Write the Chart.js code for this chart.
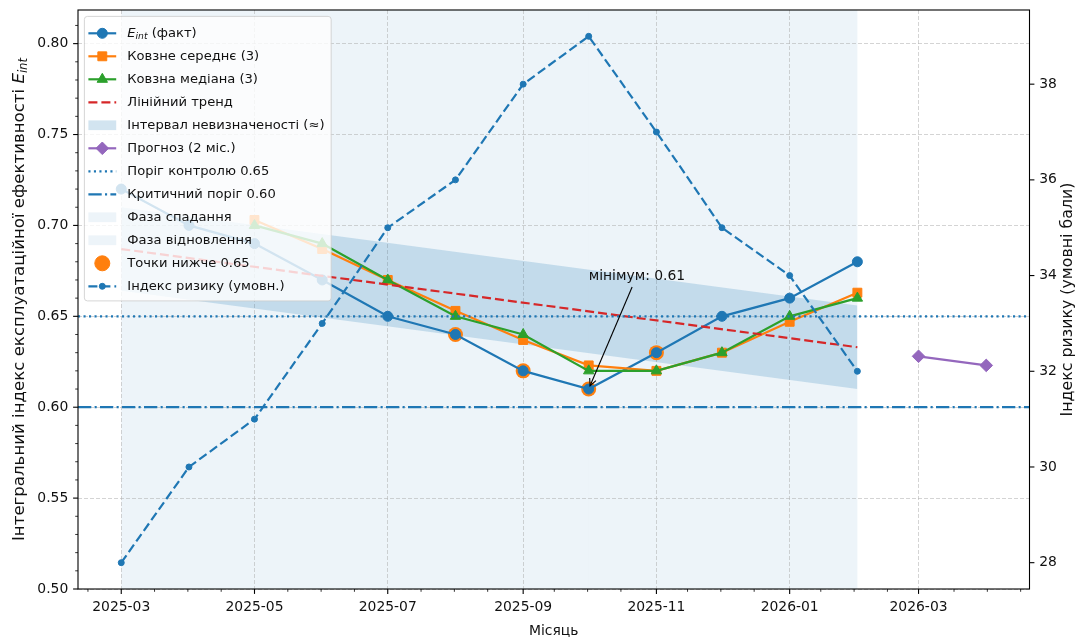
<!DOCTYPE html>
<html>
<head>
<meta charset="utf-8">
<title>Інтегральний індекс експлуатаційної ефективності</title>
<script src="https://cdn.jsdelivr.net/npm/chart.js@4.4.1/dist/chart.umd.min.js"></script>
<style>
  html, body { margin: 0; padding: 0; background: #fff; }
  canvas { display: block; background: #fff; }
</style>
</head>
<body>
<canvas id="chart" width="1078" height="641"></canvas>
<script>
// ---- data ----
const months = ['2025-03','2025-04','2025-05','2025-06','2025-07','2025-08',
                '2025-09','2025-10','2025-11','2025-12','2026-01','2026-02'];
const eint = [0.72, 0.70, 0.69, 0.67, 0.65, 0.64, 0.62, 0.61, 0.63, 0.65, 0.66, 0.68];
const movingMean = [null, null, 0.703, 0.687, 0.670, 0.653, 0.637, 0.623, 0.620, 0.630, 0.647, 0.663];
const movingMedian = [null, null, 0.70, 0.69, 0.67, 0.65, 0.64, 0.62, 0.62, 0.63, 0.65, 0.66];
const riskIndex = [28, 30, 31, 33, 35, 36, 38, 39, 37, 35, 34, 32];

const trendMonths = ['2025-03', '2026-02'];
const trendValues = [0.687, 0.633];
const bandUpper = [0.710, 0.656];
const bandLower = [0.664, 0.610];

const forecastMonths = ['2026-03', '2026-04'];
const forecastValues = [0.628, 0.623];

const controlLevel = 0.65;
const criticalLevel = 0.60;

const declinePhase = ['2025-03', '2025-10'];
const recoveryPhase = ['2025-10', '2026-02'];

const minimumMonth = '2025-10';
const minimumValue = 0.61;
const minimumLabelValue = 0.67;

const dateTicks = ['2025-03','2025-05','2025-07','2025-09','2025-11','2026-01','2026-03'];
const effTicks = [0.50, 0.55, 0.60, 0.65, 0.70, 0.75, 0.80];
const riskTicks = [28, 30, 32, 34, 36, 38];

// ---- helpers ----
const FONT = '"DejaVu Sans", Verdana, sans-serif';
const FS = 13.9;        // tick labels, x title, annotation
const FS_YL = 16.6;     // left y-axis title
const FS_YR = 15.8;     // right y-axis title
const FS_LEG = 13.1;    // legend
const TXT = '#111';
const C = { blue: '#1f77b4', orange: '#ff7f0e', green: '#2ca02c', red: '#d62728', purple: '#9467bd' };
const BAND = 'rgba(31,119,180,0.2)';
const PHASE = 'rgba(31,119,180,0.08)';
const GRID = 'rgba(176,176,176,0.55)';
const DASHED = [9, 4];
const DOTTED = [2.1, 3.4];
const DASHDOT = [13.3, 3.3, 2.1, 3.3];
const LW = 2.2;

const ORIGIN = Date.UTC(2025, 2, 1);
function dayOf(m) {
  const [y, mo] = m.split('-').map(Number);
  return (Date.UTC(y, mo - 1, 1) - ORIGIN) / 86400000;
}
function pts(ms, vals) {
  return ms.map((m, i) => (vals[i] == null ? null : { x: dayOf(m), y: vals[i] })).filter(Boolean);
}

// x range: first month to last forecast month with 5% margins
const xFirst = dayOf(months[0]);
const xLast = dayOf(forecastMonths[forecastMonths.length - 1]);
const xPad = 0.05 * (xLast - xFirst);
const xMin = xFirst - xPad, xMax = xLast + xPad;

const belowMonths = months.filter((m, i) => eint[i] < controlLevel);
const belowValues = eint.filter(v => v < controlLevel);

// ---- plugins ----
const phasePlugin = {
  id: 'phases',
  beforeDraw(chart) {
    const { ctx, chartArea: a, scales: { x } } = chart;
    ctx.save();
    ctx.fillStyle = PHASE;
    [declinePhase, recoveryPhase].forEach(([s, e]) => {
      const x0 = x.getPixelForValue(dayOf(s)), x1 = x.getPixelForValue(dayOf(e));
      ctx.fillRect(x0, a.top, x1 - x0, a.bottom - a.top);
    });
    ctx.restore();
  }
};

function drawMarker(ctx, style, x, y, r, color) {
  ctx.save();
  ctx.fillStyle = color; ctx.strokeStyle = color; ctx.lineWidth = 1;
  ctx.setLineDash([]);
  ctx.beginPath();
  if (style === 'circle') {
    ctx.arc(x, y, r, 0, Math.PI * 2);
  } else if (style === 'rect') {
    const s = r * Math.SQRT1_2;
    ctx.rect(x - s, y - s, 2 * s, 2 * s);
  } else if (style === 'triangle') {
    for (let k = 0; k < 3; k++) {
      const a = k * 2 * Math.PI / 3;
      const px = x + Math.sin(a) * r, py = y - Math.cos(a) * r;
      if (k === 0) ctx.moveTo(px, py); else ctx.lineTo(px, py);
    }
  } else if (style === 'rectRot') {
    ctx.moveTo(x, y - r); ctx.lineTo(x + r, y); ctx.lineTo(x, y + r); ctx.lineTo(x - r, y);
  }
  ctx.closePath();
  ctx.fill(); ctx.stroke();
  ctx.restore();
}

// "E" with italic subscript "int"; returns width, draws when draw=true
function eintText(ctx, x, y, draw, size) {
  ctx.save();
  ctx.font = `italic ${size}px ${FONT}`;
  const wE = ctx.measureText('E').width;
  if (draw) ctx.fillText('E', x, y);
  ctx.font = `italic ${size * 0.7}px ${FONT}`;
  const wi = ctx.measureText('int').width;
  if (draw) ctx.fillText('int', x + wE, y + size * 0.23);
  ctx.restore();
  return wE + wi;
}

const framePlugin = {
  id: 'frame',
  afterDatasetsDraw(chart) {
    const { ctx, chartArea: a, scales: { x, y, y2 } } = chart;
    ctx.save();
    // spines
    ctx.strokeStyle = '#000'; ctx.lineWidth = 1.1;
    ctx.strokeRect(a.left, a.top, a.right - a.left, a.bottom - a.top);

    // major / minor tick marks
    const tick = (x0, y0, x1, y1, w) => {
      ctx.lineWidth = w; ctx.beginPath(); ctx.moveTo(x0, y0); ctx.lineTo(x1, y1); ctx.stroke();
    };
    dateTicks.forEach(m => { const px = x.getPixelForValue(dayOf(m)); tick(px, a.bottom, px, a.bottom + 4.9, 1.1); });
    const majorDays = dateTicks.map(dayOf);
    const step = (majorDays[1] - majorDays[0]) / 4;
    for (let k = -2; k < 40; k++) {
      const d = majorDays[0] + k * step;
      if (d < xMin || d > xMax) continue;
      if (majorDays.some(md => Math.abs(md - d) < 2)) continue;
      const px = x.getPixelForValue(d);
      tick(px, a.bottom, px, a.bottom + 2.8, 0.8);
    }
    effTicks.forEach(v => { const py = y.getPixelForValue(v); tick(a.left, py, a.left - 4.9, py, 1.1); });
    for (let k = 50; k <= 81; k++) {
      if (k % 5 === 0) continue;
      const py = y.getPixelForValue(k / 100);
      if (py < a.top) continue;
      tick(a.left, py, a.left - 2.8, py, 0.8);
    }
    riskTicks.forEach(v => { const py = y2.getPixelForValue(v); tick(a.right, py, a.right + 4.9, py, 1.1); });

    // axis titles
    ctx.fillStyle = TXT;
    ctx.font = `${FS}px ${FONT}`;
    ctx.textAlign = 'center'; ctx.textBaseline = 'middle';
    ctx.fillText('Місяць', (a.left + a.right) / 2, 631);

    ctx.save();
    ctx.font = `${FS_YR}px ${FONT}`;
    ctx.translate(1068, (a.top + a.bottom) / 2);
    ctx.rotate(-Math.PI / 2);
    ctx.fillText('Індекс ризику (умовні бали)', 0, 0);
    ctx.restore();

    ctx.save();
    ctx.translate(20, (a.top + a.bottom) / 2);
    ctx.rotate(-Math.PI / 2);
    const leftTitle = 'Інтегральний індекс експлуатаційної ефективності ';
    ctx.font = `${FS_YL}px ${FONT}`;
    const w1 = ctx.measureText(leftTitle).width;
    const w2 = eintText(ctx, 0, 0, false, FS_YL);
    const start = -(w1 + w2) / 2;
    ctx.textAlign = 'left';
    ctx.fillText(leftTitle, start, 0);
    eintText(ctx, start + w1, 0, true, FS_YL);
    ctx.restore();

    // minimum annotation
    const tx = x.getPixelForValue(dayOf(minimumMonth));
    const ty = y.getPixelForValue(minimumLabelValue);
    const label = 'мінімум: ' + minimumValue.toFixed(2);
    ctx.font = `${FS}px ${FONT}`;
    ctx.textAlign = 'left'; ctx.textBaseline = 'alphabetic';
    ctx.fillStyle = TXT;
    ctx.fillText(label, tx, ty);
    const tw = ctx.measureText(label).width;
    const bx0 = tx, bx1 = tx + tw, by0 = ty - 13, by1 = ty + 4.5;
    const cx = (bx0 + bx1) / 2, cy = (by0 + by1) / 2;
    const px = x.getPixelForValue(dayOf(minimumMonth)), py = y.getPixelForValue(minimumValue);
    const dx = px - cx, dy = py - cy, len = Math.hypot(dx, dy), ux = dx / len, uy = dy / len;
    const t = Math.min((bx1 - bx0) / 2 / Math.abs(dx || 1e-9), (by1 - by0) / 2 / Math.abs(dy || 1e-9));
    const sx = cx + dx * t + ux * 2.8, sy = cy + dy * t + uy * 2.8;
    const ex = px - ux * 3.5, ey = py - uy * 3.5;
    ctx.strokeStyle = '#000'; ctx.lineWidth = 1.1;
    ctx.beginPath(); ctx.moveTo(sx, sy); ctx.lineTo(ex, ey); ctx.stroke();
    const hl = 7, hw = 3.4;
    ctx.beginPath();
    ctx.moveTo(ex - ux * hl - uy * hw, ey - uy * hl + ux * hw);
    ctx.lineTo(ex, ey);
    ctx.lineTo(ex - ux * hl + uy * hw, ey - uy * hl - ux * hw);
    ctx.stroke();
    ctx.restore();
  }
};

const legendItems = [
  { text: ' (факт)', eint: true, line: [], color: C.blue, marker: 'circle', r: 5 },
  { text: 'Ковзне середнє (3)', line: [], color: C.orange, marker: 'rect', r: 6.3 },
  { text: 'Ковзна медіана (3)', line: [], color: C.green, marker: 'triangle', r: 6 },
  { text: 'Лінійний тренд', line: DASHED, color: C.red },
  { text: 'Інтервал невизначеності (≈)', patch: BAND },
  { text: 'Прогноз (2 міс.)', line: [], color: C.purple, marker: 'rectRot', r: 6.3 },
  { text: 'Поріг контролю 0.65', line: DOTTED, color: C.blue },
  { text: 'Критичний поріг 0.60', line: DASHDOT, color: C.blue },
  { text: 'Фаза спадання', patch: PHASE },
  { text: 'Фаза відновлення', patch: PHASE },
  { text: 'Точки нижче 0.65', dot: C.orange, r: 7.5 },
  { text: 'Індекс ризику (умовн.)', line: DASHED, color: C.blue, marker: 'circle', r: 3 }
];

const legendPlugin = {
  id: 'boxLegend',
  afterDraw(chart) {
    const { ctx, chartArea: a } = chart;
    const pad = 5.6, handle = 27.8, gap = 11.1, rowH = 23.0;
    const left = a.left + 6.4, top = a.top + 6.4;
    ctx.save();
    ctx.font = `${FS_LEG}px ${FONT}`;
    let maxW = 0;
    legendItems.forEach(it => {
      let w = ctx.measureText(it.text).width;
      if (it.eint) w += eintText(ctx, 0, 0, false, FS_LEG);
      maxW = Math.max(maxW, w);
    });
    const hx0 = left + 4, hx1 = hx0 + handle, textX = hx1 + gap;
    const width = textX + maxW + pad + 1 - left;
    const height = 284.5;
    // frame
    const r = 3;
    ctx.beginPath();
    ctx.moveTo(left + r, top);
    ctx.arcTo(left + width, top, left + width, top + height, r);
    ctx.arcTo(left + width, top + height, left, top + height, r);
    ctx.arcTo(left, top + height, left, top, r);
    ctx.arcTo(left, top, left + width, top, r);
    ctx.closePath();
    ctx.fillStyle = 'rgba(255,255,255,0.8)';
    ctx.fill();
    ctx.strokeStyle = 'rgba(204,204,204,0.8)';
    ctx.lineWidth = 1;
    ctx.stroke();

    legendItems.forEach((it, i) => {
      const cy = 33.3 + i * rowH;
      const mx = (hx0 + hx1) / 2;
      if (it.patch) {
        ctx.fillStyle = it.patch;
        ctx.fillRect(hx0, cy - 4.9, handle, 9.7);
      }
      if (it.line) {
        ctx.save();
        ctx.strokeStyle = it.color; ctx.lineWidth = LW;
        ctx.setLineDash(it.line);
        ctx.beginPath(); ctx.moveTo(hx0, cy); ctx.lineTo(hx1, cy); ctx.stroke();
        ctx.restore();
      }
      if (it.marker) drawMarker(ctx, it.marker, mx, cy, it.r, it.color);
      if (it.dot) drawMarker(ctx, 'circle', mx, cy, it.r, it.dot);
      ctx.fillStyle = TXT;
      ctx.textAlign = 'left'; ctx.textBaseline = 'middle';
      ctx.font = `${FS_LEG}px ${FONT}`;
      let tx = textX;
      if (it.eint) {
        tx += eintText(ctx, tx, cy, true, FS_LEG);
        ctx.font = `${FS_LEG}px ${FONT}`;
      }
      ctx.fillText(it.text, tx, cy);
    });
    ctx.restore();
  }
};

// ---- chart ----
const lineOpts = (color, extra) => Object.assign({
  borderColor: color, backgroundColor: color, pointBackgroundColor: color, pointBorderColor: color,
  borderWidth: LW, pointBorderWidth: 1, tension: 0, fill: false
}, extra);

const datasets = [
  lineOpts(C.blue, { label: 'Індекс ризику (умовн.)', yAxisID: 'y2', data: pts(months, riskIndex),
    borderDash: DASHED, pointRadius: 3, order: 0 }),
  lineOpts(C.blue, { label: 'Поріг контролю 0.65', yAxisID: 'y',
    data: [{ x: xMin, y: controlLevel }, { x: xMax, y: controlLevel }], borderDash: DOTTED, pointRadius: 0, order: 1 }),
  lineOpts(C.blue, { label: 'Критичний поріг 0.60', yAxisID: 'y',
    data: [{ x: xMin, y: criticalLevel }, { x: xMax, y: criticalLevel }], borderDash: DASHDOT, pointRadius: 0, order: 1 }),
  lineOpts(C.purple, { label: 'Прогноз (2 міс.)', yAxisID: 'y', data: pts(forecastMonths, forecastValues),
    pointStyle: 'rectRot', pointRadius: 6.3, order: 2 }),
  lineOpts(C.red, { label: 'Лінійний тренд', yAxisID: 'y', data: pts(trendMonths, trendValues),
    borderDash: DASHED, pointRadius: 0, order: 3 }),
  lineOpts(C.green, { label: 'Ковзна медіана (3)', yAxisID: 'y', data: pts(months, movingMedian),
    pointStyle: 'triangle', pointRadius: 6, order: 4 }),
  lineOpts(C.orange, { label: 'Ковзне середнє (3)', yAxisID: 'y', data: pts(months, movingMean),
    pointStyle: 'rect', pointRadius: 6.3, order: 5 }),
  lineOpts(C.blue, { label: 'E_int (факт)', yAxisID: 'y', data: pts(months, eint),
    pointStyle: 'circle', pointRadius: 5, order: 6 }),
  lineOpts(C.orange, { label: 'Точки нижче 0.65', yAxisID: 'y', data: pts(belowMonths, belowValues),
    showLine: false, pointRadius: 7.5, pointBorderWidth: 0, order: 7 }),
  { label: 'Інтервал невизначеності (≈)', yAxisID: 'y', data: pts(trendMonths, bandUpper),
    borderWidth: 0, pointRadius: 0, backgroundColor: BAND, fill: '+1', order: 8 },
  { label: 'band-lower', yAxisID: 'y', data: pts(trendMonths, bandLower),
    borderWidth: 0, pointRadius: 0, fill: false, order: 9 }
];

const tickFont = { family: FONT, size: FS };
const noPad = s => { s.paddingTop = 0; s.paddingBottom = 0; s.paddingLeft = 0; s.paddingRight = 0; };

new Chart(document.getElementById('chart'), {
  type: 'line',
  data: { datasets },
  options: {
    responsive: false,
    animation: false,
    devicePixelRatio: 1,
    layout: { padding: { top: 10, left: 0, right: 0, bottom: 0 } },
    plugins: { legend: { display: false }, tooltip: { enabled: false } },
    scales: {
      x: {
        type: 'linear', min: xMin, max: xMax,
        afterBuildTicks: s => { s.ticks = dateTicks.map(m => ({ value: dayOf(m) })); },
        afterFit: s => { s.height = 52; noPad(s); },
        ticks: { callback: (v, i) => dateTicks[i], font: tickFont, color: TXT, padding: 9.7,
                 maxRotation: 0, autoSkip: false },
        grid: { color: GRID, lineWidth: 1, drawTicks: false },
        border: { display: false, dash: [4, 2] }
      },
      y: {
        position: 'left', min: 0.5, max: 0.8185,
        afterBuildTicks: s => { s.ticks = effTicks.map(v => ({ value: v })); },
        afterFit: s => { s.width = 78; noPad(s); },
        ticks: { callback: v => Number(v).toFixed(2), font: tickFont, color: TXT, padding: 9.7 },
        grid: { color: GRID, lineWidth: 1, drawTicks: false },
        border: { display: false, dash: [4, 2] }
      },
      y2: {
        position: 'right', min: 27.45, max: 39.55,
        afterBuildTicks: s => { s.ticks = riskTicks.map(v => ({ value: v })); },
        afterFit: s => { s.width = 48.5; noPad(s); },
        ticks: { callback: v => String(v), font: tickFont, color: TXT, padding: 9.7 },
        grid: { drawOnChartArea: false, drawTicks: false },
        border: { display: false }
      }
    }
  },
  plugins: [phasePlugin, framePlugin, legendPlugin]
});
</script>
</body>
</html>
